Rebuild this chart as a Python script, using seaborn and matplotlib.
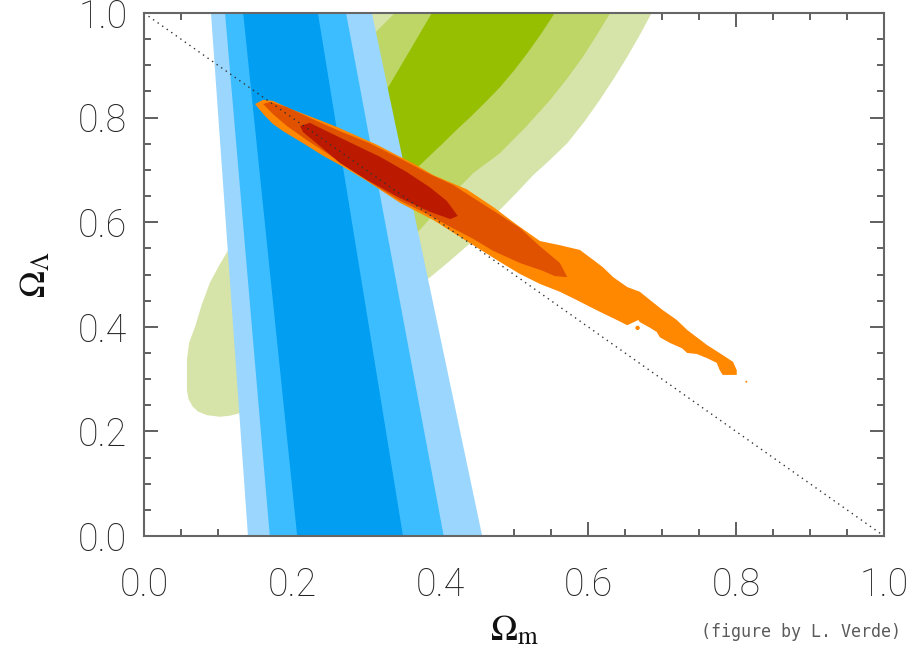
import matplotlib
matplotlib.use("Agg")
import matplotlib.pyplot as plt
import seaborn as sns
import numpy as np
from matplotlib.ticker import MultipleLocator

# ---------------- data ----------------
# Blue band (SN-like constraint): edges at Omega_L = 0 and Omega_L = 1
blue_levels = ["outer", "mid", "inner"]
blue_left_y0 = [0.1405, 0.170, 0.207]
blue_right_y0 = [0.457, 0.405, 0.350]
blue_left_y1 = [0.0905, 0.1095, 0.134]
blue_right_y1 = [0.308, 0.273, 0.235]
blue_colors = ["#9ad6fe", "#3cbdff", "#019ef1"]

# Green ellipse contours (x, y)
green_outer_x = [0.211, 0.686, 0.670, 0.653, 0.635, 0.616, 0.595, 0.572, 0.550, 0.526, 0.502,
                 0.477, 0.459, 0.441, 0.414, 0.387, 0.346, 0.211,
                 0.130, 0.116, 0.103, 0.085, 0.073, 0.066, 0.060, 0.058, 0.058, 0.061, 0.069,
                 0.078, 0.089, 0.101, 0.114, 0.157]
green_outer_y = [1.0, 1.0, 0.958, 0.916, 0.875, 0.834, 0.792, 0.751, 0.721, 0.690, 0.654,
                 0.618, 0.589, 0.560, 0.527, 0.495, 0.451, 0.317,
                 0.235, 0.230, 0.228, 0.231, 0.238, 0.247, 0.262, 0.279, 0.337, 0.370, 0.400,
                 0.442, 0.484, 0.516, 0.547, 0.738]
green_mid_x = [0.339, 0.630, 0.612, 0.593, 0.572, 0.549, 0.516, 0.481, 0.445, 0.409, 0.370,
               0.251, 0.211, 0.305, 0.322]
green_mid_y = [1.0, 1.0, 0.958, 0.916, 0.875, 0.834, 0.782, 0.732, 0.694, 0.642, 0.581,
               0.528, 0.738, 0.952, 0.976]
green_inner_x = [0.389, 0.555, 0.537, 0.518, 0.500, 0.481, 0.461, 0.441, 0.422, 0.404,
                 0.369, 0.353, 0.265, 0.251, 0.330, 0.360]
green_inner_y = [1.0, 1.0, 0.961, 0.923, 0.890, 0.858, 0.829, 0.801, 0.776, 0.751,
                 0.704, 0.685, 0.700, 0.834, 0.858, 0.930]
green_colors = ["#d6e4a9", "#bed666", "#95bf00"]

# Orange/red contours (x, y)
orange_outer_x = [0.150, 0.161, 0.174, 0.201, 0.234, 0.261, 0.288, 0.315, 0.342, 0.366, 0.391,
                  0.436, 0.472, 0.504, 0.535, 0.562, 0.589, 0.607, 0.620, 0.634, 0.653, 0.670,
                  0.684, 0.701, 0.720, 0.734, 0.747, 0.761, 0.782, 0.796, 0.801, 0.801,
                  0.782, 0.778, 0.774, 0.761, 0.747, 0.734, 0.727, 0.711, 0.697, 0.693, 0.684,
                  0.670, 0.668, 0.653, 0.639, 0.620, 0.603, 0.585, 0.562, 0.535, 0.508, 0.481,
                  0.436, 0.391, 0.346, 0.301, 0.269, 0.242, 0.215, 0.188, 0.174, 0.161]
orange_outer_y = [0.826, 0.834, 0.832, 0.815, 0.797, 0.782, 0.765, 0.748, 0.728, 0.711, 0.690,
                  0.663, 0.629, 0.595, 0.564, 0.556, 0.547, 0.528, 0.514, 0.495, 0.476, 0.467,
                  0.451, 0.432, 0.413, 0.394, 0.380, 0.365, 0.346, 0.333, 0.317, 0.308,
                  0.308, 0.317, 0.331, 0.340, 0.348, 0.350, 0.359, 0.369, 0.380, 0.390, 0.398,
                  0.409, 0.413, 0.403, 0.413, 0.426, 0.438, 0.451, 0.467, 0.482, 0.501, 0.524,
                  0.564, 0.604, 0.637, 0.679, 0.706, 0.727, 0.751, 0.774, 0.788, 0.807]
orange_mid_x = [0.161, 0.170, 0.193, 0.228, 0.265, 0.305, 0.350, 0.386, 0.418, 0.450, 0.481,
                0.508, 0.535, 0.562, 0.572, 0.555, 0.539, 0.508, 0.472, 0.445, 0.414, 0.382,
                0.346, 0.309, 0.274, 0.247, 0.220, 0.193, 0.174]
orange_mid_y = [0.826, 0.830, 0.820, 0.797, 0.774, 0.751, 0.719, 0.692, 0.671, 0.642, 0.614,
                0.589, 0.554, 0.522, 0.495, 0.497, 0.507, 0.522, 0.545, 0.568, 0.591, 0.616,
                0.641, 0.673, 0.706, 0.732, 0.757, 0.784, 0.807]
orange_inner_x = [0.211, 0.224, 0.247, 0.288, 0.319, 0.355, 0.386, 0.409, 0.424,
                  0.414, 0.386, 0.346, 0.301, 0.265, 0.234, 0.215]
orange_inner_y = [0.784, 0.790, 0.774, 0.746, 0.725, 0.696, 0.667, 0.641, 0.612,
                  0.606, 0.620, 0.646, 0.681, 0.713, 0.750, 0.772]
orange_colors = ["#ff8800", "#e05200", "#bb1a00"]

# isolated specks of the outer orange contour
speck_x = [0.667, 0.814]
speck_y = [0.398, 0.295]

# flat-universe line
flat_x = [0.0, 1.0]
flat_y = [1.0, 0.0]

x_ticks = [0.0, 0.2, 0.4, 0.6, 0.8, 1.0]
y_ticks = [0.0, 0.2, 0.4, 0.6, 0.8, 1.0]

# ---------------- plot ----------------
sns.set_theme(style="white")
plt.rcParams["font.family"] = ["Roboto", "DejaVu Sans"]
plt.rcParams["mathtext.fontset"] = "stix"

fig = plt.figure(figsize=(9.18, 6.49), dpi=100)
ax = fig.add_axes([144 / 918, 113 / 649, 740 / 918, 523 / 649])

# green first (under the blue band)
ax.fill(green_outer_x, green_outer_y, color=green_colors[0], lw=0, zorder=1)
ax.fill(green_mid_x, green_mid_y, color=green_colors[1], lw=0, zorder=1.1)
ax.fill(green_inner_x, green_inner_y, color=green_colors[2], lw=0, zorder=1.2)

for i in range(3):
    bx = [blue_left_y0[i], blue_right_y0[i], blue_right_y1[i], blue_left_y1[i]]
    by = [0.0, 0.0, 1.0, 1.0]
    ax.fill(bx, by, color=blue_colors[i], lw=0, zorder=2 + 0.1 * i)

ax.fill(orange_outer_x, orange_outer_y, color=orange_colors[0], lw=0, zorder=3)
ax.fill(orange_mid_x, orange_mid_y, color=orange_colors[1], lw=0, zorder=3.1)
ax.fill(orange_inner_x, orange_inner_y, color=orange_colors[2], lw=0, zorder=3.2)
ax.scatter(speck_x, speck_y, s=[10, 2], color=orange_colors[0], lw=0, zorder=3)

sns.lineplot(x=flat_x, y=flat_y, ax=ax, color="#333333", linestyle=(0, (1, 3)),
             linewidth=1.0, zorder=4)

ax.set_xlim(0, 1)
ax.set_ylim(0, 1)
ax.xaxis.set_minor_locator(MultipleLocator(0.05))
ax.yaxis.set_minor_locator(MultipleLocator(0.05))
ax.set_xticks(x_ticks)
ax.set_yticks(y_ticks)
ax.set_xticklabels([f"{v:.1f}" for v in x_ticks])
ax.set_yticklabels([f"{v:.1f}" for v in y_ticks])

tick_col = "#444444"
ax.tick_params(which="both", direction="in", top=True, right=True, bottom=True, left=True,
               color=tick_col, width=1.2)
ax.tick_params(which="major", length=10)
ax.tick_params(which="minor", length=5)
ax.tick_params(axis="x", which="major", pad=22, labelsize=27, labelcolor="#222222")
ax.tick_params(axis="y", which="major", pad=12, labelsize=27, labelcolor="#222222")
for lab in ax.get_xticklabels() + ax.get_yticklabels():
    lab.set_fontweight("light")

for sp in ax.spines.values():
    sp.set_color("#666666")
    sp.set_linewidth(1.5)
    sp.set_zorder(6)

ax.set_xlabel(r"$\Omega_{\rm m}$", fontsize=26, labelpad=6, color="#111111")
ax.set_ylabel(r"$\Omega_\Lambda$", fontsize=26, labelpad=18, color="#111111")
ax.grid(False)

fig.text(801 / 918, 1 - 632 / 649, "(figure by L. Verde)", ha="center", va="center",
         fontsize=12, family="DejaVu Sans Mono", color="#5a5a5a")

fig.savefig("out.png", dpi=100, facecolor="white")
